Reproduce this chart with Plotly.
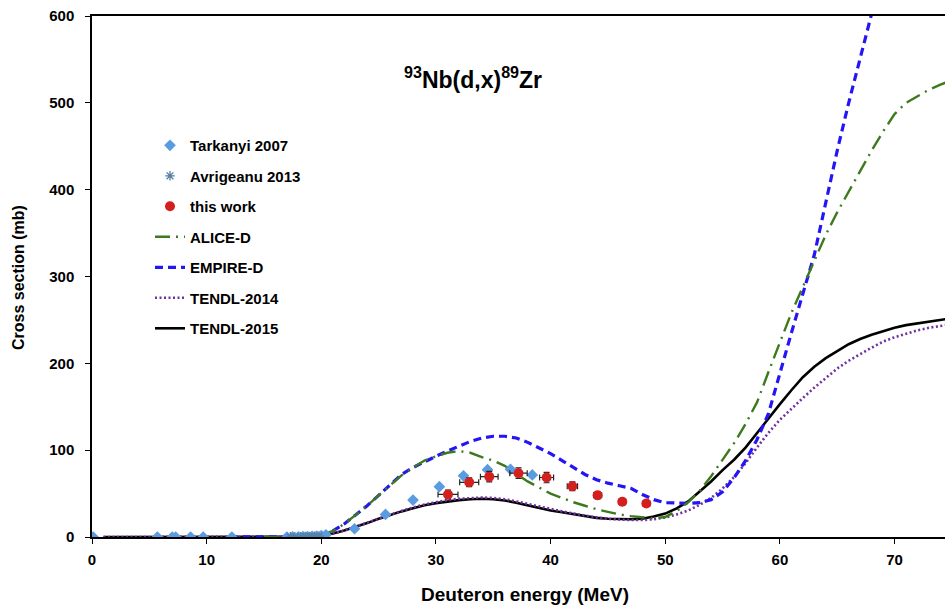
import plotly.graph_objects as go

# ---------------- data ----------------
tark_x = [0.1, 5.7, 7.0, 7.3, 8.6, 9.7, 12.2, 17.0, 17.5, 18.0, 18.4, 18.8, 19.2, 19.6, 20.0, 20.4,
          22.9, 25.6, 28.0, 30.3, 32.4, 34.5, 36.5, 38.4]
tark_y = [0, 0, 0, 0, 0, 0, 0, 0, 0.2, 0.3, 0.4, 0.5, 0.7, 0.9, 1.5, 2.5,
          9.5, 26, 42.5, 58, 70.5, 77.5, 78, 71.5]

avri_x = [17.3, 17.7, 18.2, 18.6, 19.0, 19.4, 19.8]
avri_y = [0.1, 0.2, 0.3, 0.4, 0.6, 0.8, 1.0]

work_x = [31.05, 32.9, 34.65, 37.2, 39.65, 41.9, 44.1, 46.25, 48.35]
work_y = [49, 63, 69.5, 73.5, 68.5, 58.5, 48, 40.5, 38.5]
work_dx = [0.87, 0.83, 0.77, 0.76, 0.61, 0.45, 0.35, 0.3, 0.3]
work_dy = [5, 5, 6, 6, 6, 5, 4, 3, 3]

alice_x = [15, 19, 19.5, 20, 21, 22, 23, 24, 25, 26, 27, 28, 29, 30, 31, 32, 33, 34, 35, 36, 37, 38,
           39, 40, 41, 42, 43, 44, 45, 46, 47, 48, 49, 50, 51, 52, 53, 54, 55, 56, 57, 58, 59, 60,
           61, 62, 63, 64, 65, 66, 67, 68, 69, 70, 71, 72, 73, 74, 75]
alice_y = [0, 0, 0.5, 2, 7, 15, 25, 36, 48, 60, 71, 80, 88, 93, 97, 99, 97, 92, 88, 82, 73, 64,
           57, 50, 45, 40, 36, 32, 29, 26, 24, 22.5, 21.5, 23, 30, 40, 53, 70, 89, 108, 130, 155, 190, 225,
           258, 288, 318, 348, 374, 398, 422, 445, 467, 487, 500, 508, 515, 521, 526]

empire_x = [12, 15, 19, 19.5, 20, 21, 22, 23, 24, 25, 26, 27, 28, 29, 30, 31, 32, 33, 34, 35, 36, 37,
            38, 39, 40, 41, 42, 43, 44, 45, 46, 47, 48, 49, 50, 51, 52, 53, 54, 55, 56, 57, 58, 59,
            60, 61, 62, 63, 64, 65, 66, 67, 68, 69, 70]
empire_y = [0, 0, 0, 0.5, 2, 7, 15, 25, 36, 48, 60, 72, 80, 87, 93, 99, 105, 110, 114, 116, 116, 114,
            109, 103, 96, 88, 80, 72, 66, 62, 59, 56, 49, 43, 39.5, 39, 38.8, 39.5, 43, 52, 68, 88, 112, 142,
            190, 235, 280, 325, 385, 445, 500, 552, 605, 655, 705]

t14_x = [1, 5, 10, 15, 18, 19, 20, 21, 22, 23, 24, 25, 26, 27, 28, 29, 30, 31, 32, 33, 34, 35, 36, 37,
         38, 39, 40, 41, 42, 43, 44, 45, 46, 47, 48, 49, 50, 51, 52, 53, 54, 55, 56, 57, 58, 59, 60,
         61, 62, 63, 64, 65, 66, 67, 68, 69, 70, 71, 72, 73, 74, 75]
t14_y = [0, 0, 0, 0, 0, 0.3, 1.5, 4, 7.5, 12, 16.5, 21.5, 26, 30, 34, 37.5, 40, 42.5, 44, 45, 45.5, 45,
         43.5, 41, 38, 35, 32, 29.5, 27, 24.5, 22.5, 21, 20, 19.5, 19.5, 20.5, 22.5, 26, 30.5, 37, 45, 56,
         69, 85, 103, 120, 135, 148, 160, 172, 183, 194, 203, 211, 218, 225, 230, 234, 238, 241, 243, 245]

t15_x = [1, 5, 10, 15, 18, 19, 20, 21, 22, 23, 24, 25, 26, 27, 28, 29, 30, 31, 32, 33, 34, 35, 36, 37,
         38, 39, 40, 41, 42, 43, 44, 45, 46, 47, 48, 49, 50, 51, 52, 53, 54, 55, 56, 57, 58, 59, 60,
         61, 62, 63, 64, 65, 66, 67, 68, 69, 70, 71, 72, 73, 74, 75]
t15_y = [0, 0, 0, 0, 0, 0.3, 1.5, 4, 7.5, 11.5, 16, 21, 25.5, 29.5, 33, 36.5, 39, 41, 42.5, 43.5, 44,
         43.5, 42, 39.5, 36.5, 33.5, 30.5, 28.5, 26.5, 24, 22, 21, 20.5, 20.5, 21, 23.5, 27, 33, 41, 52,
         64, 77, 89, 103, 120, 137, 153, 169, 184, 196, 206, 214, 222, 228, 233, 237, 241, 244, 246, 248,
         250, 252]

x_ticks = [0, 10, 20, 30, 40, 50, 60, 70]
y_ticks = [0, 100, 200, 300, 400, 500, 600]

FONT = "Arial, Liberation Sans, sans-serif"

fig = go.Figure()

fig.add_trace(go.Scatter(x=t15_x, y=t15_y, mode="lines", name="TENDL-2015", legendrank=7,
                         legendgroup="g7", line=dict(color="black", width=2.6)))
fig.add_trace(go.Scatter(x=t14_x, y=t14_y, mode="lines", name="TENDL-2014", legendrank=6,
                         legendgroup="g6", line=dict(color="#7030A0", width=2.6, dash="2px,2.5px")))
fig.add_trace(go.Scatter(x=empire_x, y=empire_y, mode="lines", name="EMPIRE-D", legendrank=5,
                         legendgroup="g5", line=dict(color="#2415F5", width=3.2, dash="8px,5px")))
fig.add_trace(go.Scatter(x=alice_x, y=alice_y, mode="lines", name="ALICE-D", legendrank=4,
                         legendgroup="g4", line=dict(color="#3D7A1E", width=2.4, dash="15px,6px,2px,6px")))
fig.add_trace(go.Scatter(x=tark_x, y=tark_y, mode="markers", name="Tarkanyi 2007", legendrank=1,
                         legendgroup="g1",
                         marker=dict(symbol="diamond", size=9, color="#5B9BE0")))
fig.add_trace(go.Scatter(x=avri_x, y=avri_y, mode="markers", name="Avrigeanu 2013", legendrank=2,
                         legendgroup="g2",
                         marker=dict(symbol="asterisk-open", size=8, color="#557FA6",
                                     line=dict(color="#557FA6", width=1.3))))
fig.add_trace(go.Scatter(x=work_x, y=work_y, mode="markers", name="this work", legendrank=3,
                         legendgroup="g3",
                         marker=dict(symbol="circle", size=10, color="#D41F1F"),
                         error_x=dict(type="data", array=work_dx, color="#222222", thickness=1.2, width=3),
                         error_y=dict(type="data", array=work_dy, color="#222222", thickness=1.2, width=3)))

fig.update_layout(
    width=945, height=609,
    margin=dict(l=92, r=0, t=16, b=72),
    paper_bgcolor="white", plot_bgcolor="white",
    font=dict(family=FONT, size=13, color="black"),
    showlegend=True,
    legend=dict(x=0.068, y=0.783, xanchor="left", yanchor="top",
                bgcolor="rgba(0,0,0,0)", tracegroupgap=8,
                font=dict(family=FONT, size=15, color="black", weight="bold")),
    xaxis=dict(range=[0, 74.4], tickvals=x_ticks, showgrid=False, zeroline=False,
               showline=True, linecolor="black", linewidth=1.5, mirror=True,
               ticks="outside", ticklen=5, tickcolor="black", ticklabelstandoff=3,
               tickfont=dict(family=FONT, size=15, color="black", weight="bold")),
    yaxis=dict(range=[0, 600], tickvals=y_ticks, showgrid=False, zeroline=False,
               showline=True, linecolor="black", linewidth=1.5,
               ticks="outside", ticklen=5, tickcolor="black", ticklabelstandoff=8,
               tickfont=dict(family=FONT, size=15, color="black", weight="bold")),
    annotations=[
        dict(text="<b><sup>93</sup>Nb(d,x)<sup>89</sup>Zr</b>", xref="paper", yref="paper",
             x=0.4467, y=0.881, xanchor="center", yanchor="middle", showarrow=False,
             font=dict(family=FONT, size=23, color="black")),
        dict(text="<b>Deuteron energy (MeV)</b>", xref="paper", yref="paper",
             x=0.5076, y=-0.111, xanchor="center", yanchor="middle", showarrow=False,
             font=dict(family=FONT, size=19, color="black")),
        dict(text="<b>Cross section (mb)</b>", xref="paper", yref="paper",
             x=-0.0868, y=0.499, xanchor="center", yanchor="middle", showarrow=False,
             textangle=-90, font=dict(family=FONT, size=16, color="black")),
    ],
)

fig.write_html("out.html")
